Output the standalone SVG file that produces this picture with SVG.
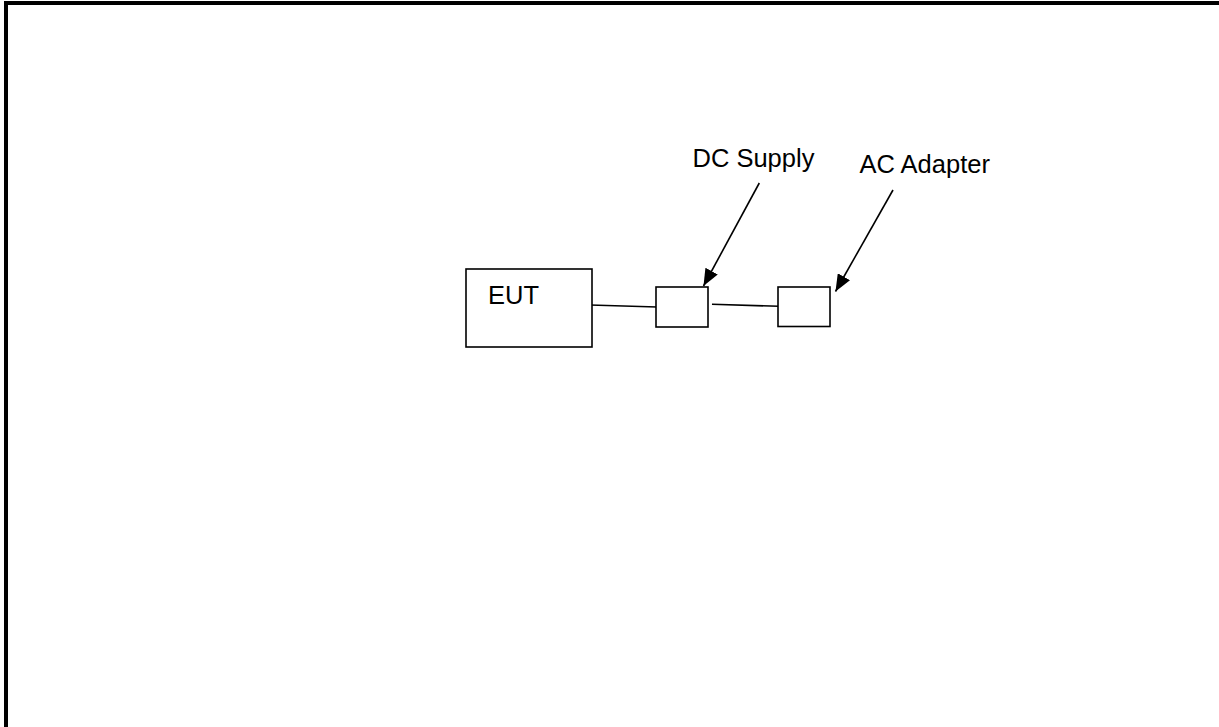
<svg xmlns="http://www.w3.org/2000/svg" width="1219" height="727" viewBox="0 0 1219 727">
<style>
.box{fill:#fff;stroke:#000;stroke-width:1.6}
.ln{fill:none;stroke:#000;stroke-width:1.6}
.lbl{font-family:"Liberation Sans",Arial,sans-serif;font-size:25.5px;fill:#000}
</style>
<defs>
<marker id="ah" markerUnits="userSpaceOnUse" markerWidth="18" markerHeight="14" refX="17" refY="7" orient="auto">
<path d="M0,0 L17,7 L0,14 Z" fill="#000"/>
</marker>
</defs>
<rect width="1219" height="727" fill="#fff"/>
<g id="frame">
<line x1="4" y1="3" x2="1219" y2="3" stroke="#000" stroke-width="4"/>
<line x1="6" y1="1" x2="6" y2="727" stroke="#000" stroke-width="4"/>
</g>
<g id="connectors">
<line class="ln" x1="590" y1="305" x2="657" y2="307"/>
<line class="ln" x1="712" y1="304.3" x2="779" y2="306.3"/>
<line class="ln" x1="759.3" y1="183" x2="703.5" y2="286" marker-end="url(#ah)"/>
<line class="ln" x1="893" y1="190" x2="835.5" y2="291.5" marker-end="url(#ah)"/>
</g>
<g id="eut">
<rect class="box" x="466" y="269" width="126" height="78"/>
<text class="lbl" x="488" y="304">EUT</text>
</g>
<g id="dc-box">
<rect class="box" x="656" y="287" width="52" height="40"/>
</g>
<g id="ac-box">
<rect class="box" x="778" y="287" width="52" height="39.5"/>
</g>
<g id="dc-label">
<text class="lbl" x="692.5" y="166.7">DC Supply</text>
</g>
<g id="ac-label">
<text class="lbl" x="859.5" y="173.3">AC Adapter</text>
</g>
</svg>
